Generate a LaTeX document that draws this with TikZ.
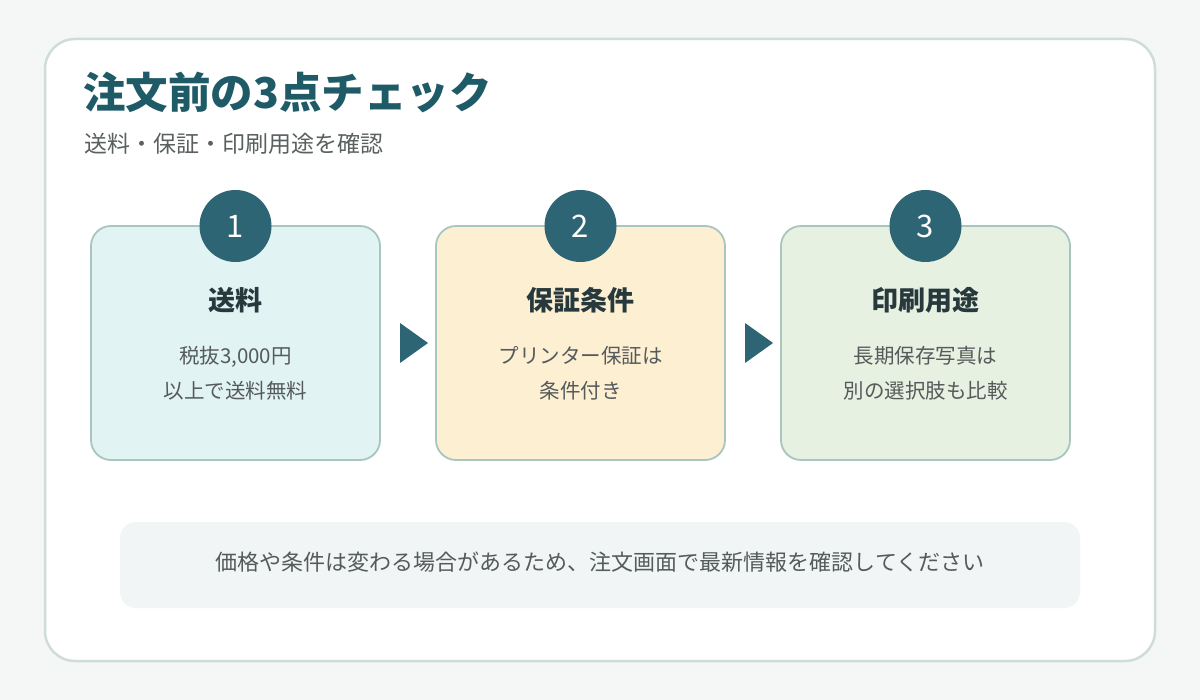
\documentclass[tikz,border=0pt]{standalone}
\usepackage{fontspec}
\setmainfont{Noto Sans CJK JP}
\definecolor{bgc}{HTML}{F5F7F6}
\definecolor{cardline}{HTML}{CFDDD8}
\definecolor{titlec}{HTML}{1F5B67}
\definecolor{subc}{HTML}{5A5F60}
\definecolor{boxline}{HTML}{A8C5C0}
\definecolor{fillA}{HTML}{E1F3F3}
\definecolor{fillB}{HTML}{FDEFD2}
\definecolor{fillC}{HTML}{E7F1E1}
\definecolor{badge}{HTML}{2E6574}
\definecolor{headc}{HTML}{27393D}
\definecolor{bodyc}{HTML}{555A5B}
\definecolor{notefill}{HTML}{F1F5F6}
\tikzset{
  stepbox/.style={draw=boxline, line width=1.8pt, rounded corners=20pt, minimum width=289pt, minimum height=234pt, inner sep=0pt},
  badgenode/.style={circle, fill=badge, minimum size=72pt, inner sep=0pt, text=white, font=\fontsize{31}{33}\selectfont},
  headtext/.style={text=headc, font=\fontsize{27}{30}\selectfont\bfseries},
  bodytext/.style={text=bodyc, font=\fontsize{20.5}{35}\selectfont, align=center},
  tri/.style={fill=badge}
}
\begin{document}
\begin{tikzpicture}[x=1pt,y=-1pt]
\fill[bgc] (0,0) rectangle (1200,700);
\useasboundingbox (0,0) rectangle (1200,700);
\draw[cardline, line width=2.5pt, fill=white, rounded corners=30pt] (45,39) rectangle (1155,661);
\node[anchor=base west, text=titlec, font=\fontsize{42.5}{45}\selectfont\bfseries, inner sep=0pt] (title) at (83,109) {注文前の3点チェック};
\node[anchor=base west, text=subc, font=\fontsize{23}{25}\selectfont, inner sep=0pt] (sub) at (84,153) {送料・保証・印刷用途を確認};
% boxes
\node[stepbox, fill=fillA] (b1) at (235.5,343) {};
\node[stepbox, fill=fillB] (b2) at (580.5,343) {};
\node[stepbox, fill=fillC] (b3) at (925.5,343) {};
\node[badgenode] (n1) at (235.5,226) {1};
\node[badgenode] (n2) at (580.5,226) {2};
\node[badgenode] (n3) at (925.5,226) {3};
\node[headtext] (h1) at (235.5,300) {送料};
\node[headtext] (h2) at (580.5,300) {保証条件};
\node[headtext] (h3) at (925.5,300) {印刷用途};
\node[bodytext] (t1) at (235.5,373) {税抜3,000円\\以上で送料無料};
\node[bodytext] (t2) at (580.5,373) {プリンター保証は\\条件付き};
\node[bodytext] (t3) at (925.5,373) {長期保存写真は\\別の選択肢も比較};
% arrows
\coordinate (a1) at (400,323);
\coordinate (a2) at (745,323);
\fill[tri] (a1) -- ++(0,40) -- ++(28,-20) -- cycle;
\fill[tri] (a2) -- ++(0,40) -- ++(28,-20) -- cycle;
% note
\fill[notefill, rounded corners=16pt] (120,522) rectangle (1080,608);
\node[text=bodyc, font=\fontsize{22}{24}\selectfont] (note) at (600,562) {価格や条件は変わる場合があるため、注文画面で最新情報を確認してください};
\end{tikzpicture}
\end{document}
